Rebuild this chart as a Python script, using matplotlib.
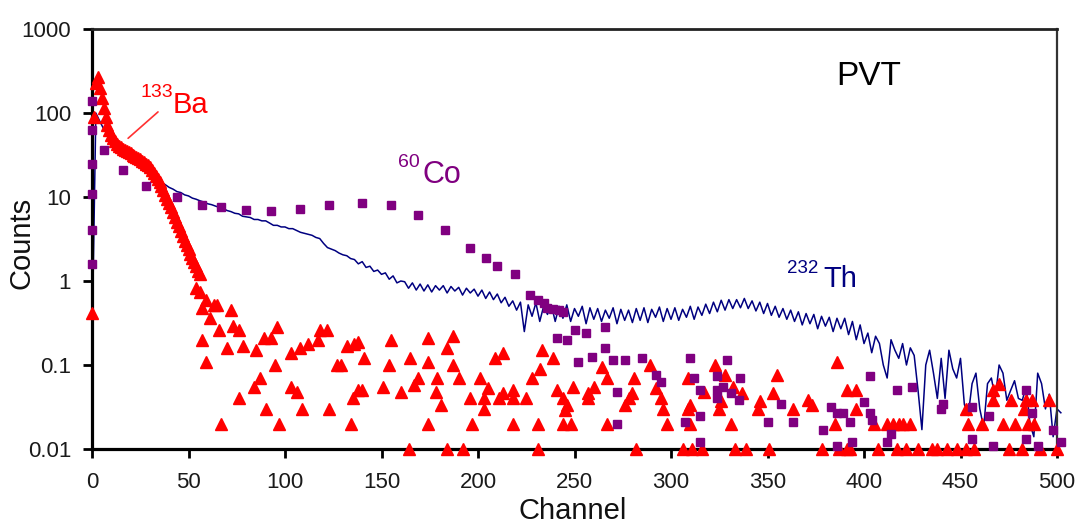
import matplotlib
matplotlib.use('Agg')
import matplotlib.pyplot as plt
from matplotlib.ticker import NullLocator

plt.rcParams['font.family'] = ['Liberation Sans', 'DejaVu Sans']

# ── 232Th: one reading every 2 channels (0 .. 502) ──
th_ch = list(range(0, 503, 2))
th_counts = [
    0.16, 100, 80, 65, 55, 48, 42, 37, 33, 30, 27, 25, 23, 21, 19.5, 18, 17, 16, 15, 14, 13,
    12.4, 11.6, 11.3, 10.6, 10.3, 9.7, 9.4, 9.0, 8.7, 8.3, 8.1, 7.8, 7.5, 7.3, 6.9, 6.7, 6.4, 6.3, 5.9, 5.8,
    5.7, 5.4, 5.4, 5.2, 5.2, 4.9, 4.6, 4.6, 4.4, 4.4, 4.2, 4.2, 4.0, 3.8, 3.7, 3.6, 3.5, 3.3, 3.2, 2.8,
    2.5, 2.4, 2.3, 2.15, 2.05, 2.0, 1.85, 1.8, 1.6, 1.7, 1.45, 1.5, 1.3, 1.35, 1.2, 1.25, 1.05, 1.15, 0.95, 1.0,
    0.98, 0.82, 0.95, 0.78, 0.92, 0.76, 0.9, 0.74, 0.88, 0.78, 0.88, 0.72, 0.86, 0.76, 0.84, 0.68, 0.82, 0.72, 0.8, 0.66,
    0.78, 0.62, 0.74, 0.6, 0.7, 0.55, 0.64, 0.5, 0.58, 0.45, 0.56, 0.25, 0.52, 0.38, 0.55, 0.33, 0.5, 0.4, 0.52, 0.33,
    0.5, 0.36, 0.52, 0.33, 0.47, 0.38, 0.5, 0.31, 0.48, 0.35, 0.47, 0.33, 0.45, 0.36, 0.48, 0.31, 0.46, 0.34, 0.45, 0.32,
    0.47, 0.34, 0.48, 0.32, 0.46, 0.37, 0.49, 0.33, 0.47, 0.35, 0.48, 0.34, 0.46, 0.37, 0.5, 0.35, 0.49, 0.39, 0.53, 0.41,
    0.56, 0.43, 0.59, 0.45, 0.6, 0.47, 0.6, 0.48, 0.62, 0.47, 0.58, 0.44, 0.56, 0.41, 0.54, 0.39, 0.5, 0.37, 0.47, 0.35,
    0.45, 0.33, 0.43, 0.3, 0.41, 0.31, 0.4, 0.27, 0.38, 0.29, 0.37, 0.25, 0.36, 0.27, 0.36, 0.23, 0.33, 0.2, 0.3, 0.18,
    0.24, 0.14, 0.22, 0.18, 0.1, 0.07, 0.2, 0.15, 0.12, 0.18, 0.1, 0.16, 0.13, 0.05, 0.017, 0.1, 0.15, 0.08, 0.04, 0.12,
    0.04, 0.15, 0.09, 0.07, 0.12, 0.034, 0.025, 0.06, 0.08, 0.03, 0.018, 0.06, 0.07, 0.04, 0.1, 0.08, 0.038, 0.05, 0.065, 0.04,
    0.038, 0.055, 0.02, 0.014, 0.08, 0.06, 0.03, 0.045, 0.014, 0.03, 0.027,
]

# ── 133Ba: dense part, one point per channel 0 .. 56 ──
ba_dense_ch = list(range(0, 57))
ba_dense_counts = [
    0.42, 90, 230, 270, 200, 150, 115, 90, 72, 62, 55, 50, 46, 43, 41, 39, 37, 36, 35, 34,
    33, 32, 31, 30, 29, 28, 27, 26, 25, 24, 22.5, 21, 19.5, 18, 16.5, 15, 13.5, 12, 10.5, 9.5,
    8.5, 7.5, 6.6, 5.8, 5.1, 4.5, 3.9, 3.4, 3.0, 2.7, 2.4, 2.1, 1.9, 1.7, 1.5, 1.3, 1.2,
]

# ── 133Ba: sparse tail (channels with non-zero counts) ──
ba_tail_ch = [
    54, 56, 59, 63, 57, 65, 61, 72, 57, 66, 73, 76, 59, 70, 78, 85, 89, 93, 96, 95,
    76, 67, 87, 84, 90, 97, 103, 108, 112, 117, 118, 122, 103, 106, 109, 123, 127, 129, 132, 136,
    134, 135, 138,
    138, 155, 174, 187, 184, 233, 213, 209, 239, 141, 154, 165, 174, 187, 232, 289,
    169, 179, 190, 201, 228, 267, 281, 309,
    151, 167, 140, 160, 178, 205, 218, 241, 249, 260, 292,
    196, 203, 211, 218, 225, 244, 257, 278, 295,
    181, 203, 246, 276, 296, 309,
    174, 197, 218, 231, 244, 248, 267, 298, 310,
    164, 184, 192, 231, 282, 306, 311,
    257, 264, 280, 245, 317, 323, 328, 332, 337, 326, 325, 346, 353, 355, 363, 331, 213,
    316, 333, 339, 351,
    310, 345, 371, 373, 386, 391, 396, 396, 385, 405, 412, 415, 418, 420, 424,
    453, 454, 461, 467, 470, 467, 476, 484, 483, 487, 496, 472, 478, 485, 488,
    378, 387, 391, 393, 407, 417, 422, 428, 435, 438, 443, 448, 453, 457, 475, 482, 491, 500,
]
ba_tail_counts = [
    0.83, 0.74, 0.6, 0.52, 0.48, 0.52, 0.36, 0.45, 0.2, 0.26, 0.29, 0.26, 0.11, 0.16, 0.17, 0.15, 0.21, 0.21, 0.28, 0.1,
    0.04, 0.02, 0.07, 0.055, 0.03, 0.02, 0.14, 0.16, 0.18, 0.2, 0.26, 0.26, 0.055, 0.048, 0.03, 0.03, 0.1, 0.1, 0.17, 0.18,
    0.02, 0.04, 0.05,
    0.19, 0.2, 0.21, 0.22, 0.16, 0.15, 0.14, 0.12, 0.12, 0.12, 0.1, 0.12, 0.11, 0.1, 0.09, 0.1,
    0.07, 0.07, 0.07, 0.07, 0.07, 0.07, 0.07, 0.07,
    0.055, 0.058, 0.05, 0.048, 0.048, 0.053, 0.05, 0.05, 0.055, 0.055, 0.053,
    0.04, 0.04, 0.04, 0.04, 0.04, 0.04, 0.04, 0.04, 0.04,
    0.033, 0.03, 0.033, 0.033, 0.03, 0.03,
    0.02, 0.02, 0.02, 0.02, 0.02, 0.02, 0.02, 0.02, 0.02,
    0.01, 0.01, 0.01, 0.01, 0.01, 0.01, 0.01,
    0.047, 0.095, 0.047, 0.029, 0.048, 0.1, 0.076, 0.055, 0.047, 0.037, 0.03, 0.037, 0.047, 0.076, 0.03, 0.02, 0.047,
    0.01, 0.01, 0.01, 0.01,
    0.033, 0.03, 0.038, 0.033, 0.11, 0.05, 0.05, 0.03, 0.02, 0.02, 0.02, 0.02, 0.02, 0.02, 0.02,
    0.03, 0.02, 0.02, 0.05, 0.06, 0.038, 0.038, 0.038, 0.03, 0.038, 0.038, 0.02, 0.02, 0.02, 0.02,
    0.01, 0.01, 0.01, 0.01, 0.01, 0.01, 0.01, 0.01, 0.01, 0.01, 0.01, 0.01, 0.01, 0.01, 0.01, 0.01, 0.01, 0.01,
]

# ── 60Co ──
co_ch = [
    0, 0, 0, 0, 0, 0,
    6, 16, 28, 44, 57, 67, 80, 93, 108, 123, 140, 155, 169, 183, 196, 204, 210, 219,
    227, 231, 234, 236, 239, 242, 244,
    241, 246, 250, 256, 266,
    252, 259, 266, 270, 276, 285, 292, 295,
    272, 272,
    310, 312, 315, 307, 315, 315,
    329, 324, 324, 327, 331, 336, 324, 335,
    350, 357, 363, 379, 383, 386, 386, 389, 393, 394,
    400, 403, 403, 404, 412, 414, 417, 425, 440, 441,
    456, 456, 465, 467, 484, 487, 484, 490, 498, 502,
]
co_counts = [
    140, 63, 25, 11, 4.1, 1.6,
    36, 21, 13.5, 10, 8.0, 7.5, 7.0, 6.8, 7.2, 8.0, 8.5, 8.0, 6.1, 4.1, 2.5, 1.9, 1.5, 1.2,
    0.68, 0.6, 0.55, 0.48, 0.47, 0.45, 0.43,
    0.21, 0.2, 0.26, 0.24, 0.28,
    0.11, 0.125, 0.16, 0.115, 0.115, 0.12, 0.076, 0.063,
    0.048, 0.02,
    0.12, 0.07, 0.05, 0.021, 0.025, 0.012,
    0.115, 0.073, 0.05, 0.055, 0.046, 0.07, 0.04, 0.038,
    0.021, 0.034, 0.021, 0.017, 0.032, 0.011, 0.027, 0.027, 0.021, 0.012,
    0.036, 0.027, 0.073, 0.022, 0.012, 0.015, 0.05, 0.055, 0.03, 0.034,
    0.013, 0.032, 0.025, 0.011, 0.05, 0.027, 0.013, 0.011, 0.017, 0.012,
]

x_ticks = [0, 50, 100, 150, 200, 250, 300, 350, 400, 450, 500]
y_ticks = [0.01, 0.1, 1, 10, 100, 1000]
y_tick_labels = ['0.01', '0.1', '1', '10', '100', '1000']

RED = '#ff0000'
PURPLE = '#800080'
NAVY = '#000080'

W, H = 1078, 523
fig = plt.figure(figsize=(W / 100, H / 100), dpi=100)
ax = fig.add_axes([92 / W, 1 - 449 / H, (1057 - 92) / W, (449 - 29) / H])
ax.set_yscale('log')
ax.set_xlim(0, 500)
ax.set_ylim(0.01, 1000)

ax.plot(th_ch, th_counts, color=NAVY, lw=1.1, zorder=2, clip_on=False)
ax.plot(ba_dense_ch + ba_tail_ch, ba_dense_counts + ba_tail_counts, ls='none',
        marker='^', ms=8.5, color=RED, mec=RED, zorder=3, clip_on=False)
ax.plot(co_ch, co_counts, ls='none', marker='s', ms=6, color=PURPLE,
        mec=PURPLE, zorder=4, clip_on=False)

# leader line from the Ba label to the curve
ax.annotate('', xy=(18.7, 50), xytext=(34.2, 103),
            arrowprops=dict(arrowstyle='-', color='#ff3030', lw=1.2,
                            shrinkA=0, shrinkB=0))

ax.set_xticks(x_ticks)
ax.set_yticks(y_ticks, labels=y_tick_labels)
ax.yaxis.set_minor_locator(NullLocator())
ax.tick_params(axis='both', direction='out', length=6.5, width=2,
               labelsize=16, labelcolor='#1a1a1a', color='black')
ax.tick_params(axis='x', pad=10)
ax.tick_params(axis='y', pad=8.5)

for side in ('left', 'bottom'):
    ax.spines[side].set_linewidth(2.3)
    ax.spines[side].set_color('black')
ax.spines['top'].set_linewidth(2.0)
ax.spines['top'].set_color('#222222')
ax.spines['right'].set_linewidth(1.6)
ax.spines['right'].set_color('#333333')


def put(xp, yp, s, **kw):
    """text at pixel position (baseline, left edge)"""
    kw.setdefault('ha', 'left')
    kw.setdefault('va', 'baseline')
    fig.text(xp / W, 1 - yp / H, s, **kw)


put(140, 97, '133', size=14, color=RED)
put(173, 113, 'Ba', size=21, color=RED)
put(398, 167, '60', size=14, color=PURPLE)
put(422, 183, 'Co', size=22, color=PURPLE)
put(787, 273, '232', size=13.5, color=NAVY)
put(823, 287, 'Th', size=21, color=NAVY)
put(836, 85, 'PVT', size=24, color='black')
put(518, 519, 'Channel', size=21, color='#111111')
put(22, 243, 'Counts', size=21, color='#111111', rotation=90,
    ha='center', va='center')

fig.savefig('out.png', dpi=100)
